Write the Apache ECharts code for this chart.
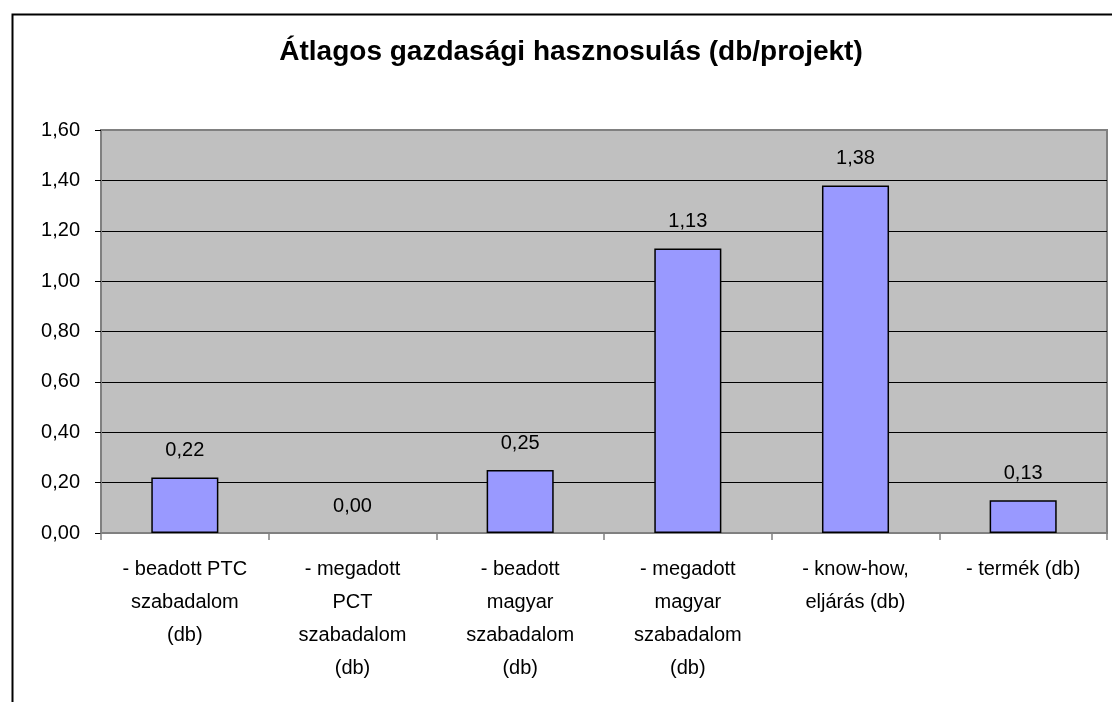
<!DOCTYPE html>
<html>
<head>
<meta charset="utf-8">
<script src="https://cdn.jsdelivr.net/npm/echarts@6/dist/echarts.min.js"></script>
<style>
html,body{margin:0;padding:0;background:#fff;}
#main{width:1112px;height:702px;}
</style>
</head>
<body>
<div id="main"></div>
<script>
var titleText = 'Átlagos gazdasági hasznosulás (db/projekt)';
var categories = [
  '- beadott PTC\nszabadalom\n(db)',
  '- megadott\nPCT\nszabadalom\n(db)',
  '- beadott\nmagyar\nszabadalom\n(db)',
  '- megadott\nmagyar\nszabadalom\n(db)',
  '- know-how,\neljárás (db)',
  '- termék (db)'
];
var values = [0.22, 0.00, 0.25, 1.13, 1.38, 0.13];
var yMin = 0, yMax = 1.6, yInterval = 0.2;

function fmt(v){ return Number(v).toFixed(2).replace('.', ','); }

var barData = values.map(function(v){
  return v === 0 ? {value: v, itemStyle: {borderWidth: 0}} : v;
});

var chart = echarts.init(document.getElementById('main'), null, {renderer:'canvas'});
var font = 'Liberation Sans, Arial, sans-serif';
chart.setOption({
  animation: false,
  backgroundColor: '#ffffff',
  textStyle: {fontFamily: font},
  title: {
    text: titleText,
    left: 566, top: 33, textAlign: 'center',
    textStyle: {fontSize: 28, fontWeight: 'bold', color: '#000', fontFamily: font}
  },
  graphic: [{
    type: 'rect', left: 10, top: 12,
    shape: {width: 1200, height: 800},
    style: {fill: 'none', stroke: '#000', lineWidth: 2},
    silent: true
  }],
  grid: {
    left: 101, right: 5, top: 130, bottom: 169,
    show: true, backgroundColor: '#C0C0C0', borderColor: '#808080', borderWidth: 2
  },
  xAxis: {
    type: 'category',
    data: categories,
    axisLine: {show: true, lineStyle: {color: '#808080', width: 2}},
    axisTick: {show: true, length: 7, interval: 0, lineStyle: {color: '#808080', width: 1.5}},
    axisLabel: {interval: 0, fontSize: 20, lineHeight: 33, color: '#000', margin: 20, fontFamily: font},
    splitLine: {show: false}
  },
  yAxis: {
    type: 'value',
    min: yMin, max: yMax, interval: yInterval,
    axisLine: {show: true, lineStyle: {color: '#808080', width: 2}},
    axisTick: {show: true, length: 6, lineStyle: {color: '#000', width: 1}},
    axisLabel: {fontSize: 20, color: '#000', margin: 21, formatter: fmt, fontFamily: font},
    splitLine: {show: true, lineStyle: {color: ['#808080','#000','#000','#000','#000','#000','#000','#000','#808080'], width: 1}}
  },
  series: [{
    type: 'bar',
    data: barData,
    barWidth: '40%',
    itemStyle: {color: '#9999FF', borderColor: '#000', borderWidth: 1.5},
    label: {show: true, position: 'top', distance: 17, fontSize: 20, color: '#000', fontFamily: font,
      formatter: function(p){ return fmt(p.value); }}
  }]
});
</script>
</body>
</html>
